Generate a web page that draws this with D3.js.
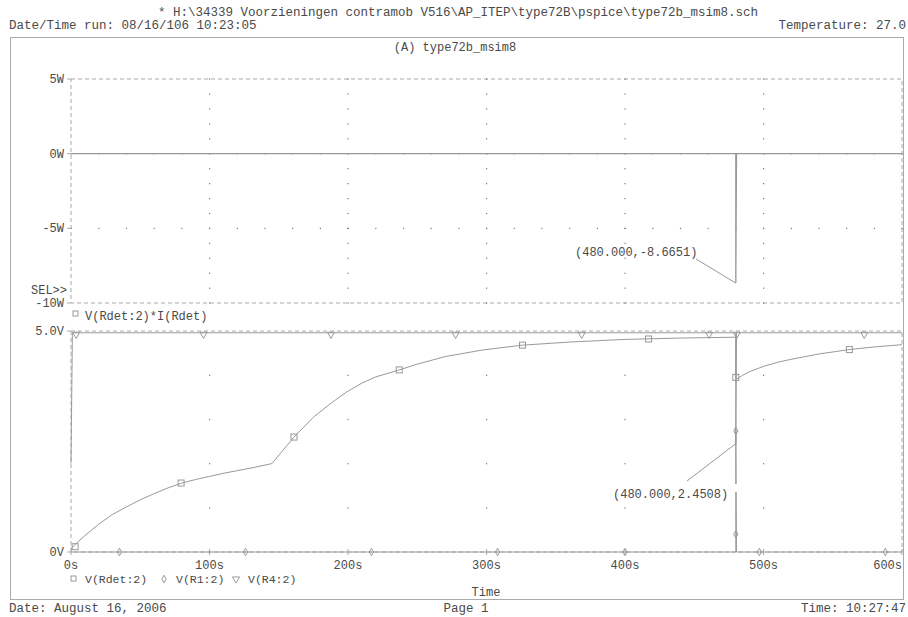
<!DOCTYPE html>
<html>
<head>
<meta charset="utf-8">
<script src="https://cdn.jsdelivr.net/npm/d3@7"></script>
<style>
	body { margin: 0; background: #fff; }
	svg text { font-family: "Liberation Mono", "DejaVu Sans Mono", monospace; fill: #4a4a4a; }
</style>
</head>
<body>
<svg id="chart" width="908" height="617"></svg>
<script>
// traces (time in s)
var powerTrace = [[0, 0], [480, 0], [480, -8.6651], [480.5, 0], [600, 0]];

var rdetTrace = [[0, 0.07], [5, 0.23], [10, 0.37], [15, 0.5], [20, 0.63], [30, 0.85], [40, 1.02], [50, 1.18], [60, 1.32],
	[70, 1.45], [80, 1.56], [90, 1.64], [100, 1.71], [110, 1.78], [120, 1.84], [130, 1.9], [145, 2.0],
	[161, 2.6], [175, 3.05], [187, 3.35], [199, 3.62], [210, 3.82], [220, 3.96], [237, 4.12],
	[250, 4.25], [270, 4.42], [297, 4.57], [326, 4.68], [360, 4.75], [400, 4.81], [440, 4.84],
	[480, 4.86], [480, 3.9], [485, 4.0], [490, 4.08], [500, 4.2], [510, 4.29], [520, 4.36], [540, 4.48],
	[562, 4.58], [580, 4.64], [600, 4.69]];
var r1Trace = [[0, 0], [480, 0], [480, 2.74], [480.5, 0], [600, 0]];
var r4Trace = [[0, 2.0], [1, 4.96], [480, 4.96], [480, 2.45], [480.5, 4.96], [600, 4.96]];

var rdetMarks = [[3, 0.12], [79.5, 1.56], [161, 2.6], [237, 4.12], [326, 4.68], [417, 4.82], [480, 3.95], [562, 4.58]];
var r1Marks = [[35, 0], [126, 0], [217, 0], [308, 0], [400, 0], [480, 0.4], [480, 2.74], [497, 0], [588, 0]];
var r4Marks = [[3, 4.96], [95, 4.96], [187, 4.96], [277, 4.96], [368, 4.96], [460, 4.96], [480, 4.96], [572, 4.96]];

var timeTicks = [0, 100, 200, 300, 400, 500, 600];
var powerTicks = [5, 0, -5, -10];
var powerTickLabels = ['5W', '0W', '-5W', '-10W'];
var voltTicks = [5, 0];
var voltTickLabels = ['5.0V', '0V'];

var svg = d3.select('#chart');
var line = '#999', frame = '#aaa';

var x = d3.scaleLinear().domain([0, 600]).range([71, 902]);
var yP = d3.scaleLinear().domain([-10, 5]).range([303, 79]);
var yV = d3.scaleLinear().domain([0, 5]).range([552, 331]);

// page header / footer
svg.append('text').attr('x', 458).attr('y', 16).attr('text-anchor', 'middle').style('font-size', '12.5px')
	.text('* H:\\34339 Voorzieningen contramob V516\\AP_ITEP\\type72B\\pspice\\type72b_msim8.sch');
svg.append('text').attr('x', 9).attr('y', 29).style('font-size', '12.5px').text('Date/Time run: 08/16/106 10:23:05');
svg.append('text').attr('x', 906).attr('y', 29).attr('text-anchor', 'end').style('font-size', '12.5px').text('Temperature: 27.0');
svg.append('rect').attr('x', 10.5).attr('y', 37.5).attr('width', 893).attr('height', 562)
	.attr('fill', 'none').attr('stroke', frame);
svg.append('text').attr('x', 455).attr('y', 51).attr('text-anchor', 'middle').style('font-size', '12px').text('(A) type72b_msim8');
svg.append('text').attr('x', 9).attr('y', 612).style('font-size', '12.5px').text('Date: August 16, 2006');
svg.append('text').attr('x', 466).attr('y', 612).attr('text-anchor', 'middle').style('font-size', '12.5px').text('Page 1');
svg.append('text').attr('x', 906).attr('y', 612).attr('text-anchor', 'end').style('font-size', '12.5px').text('Time: 10:27:47');

function dashedBox(y) {
	var r = y.range();
	svg.append('rect').attr('x', x(0)).attr('y', r[1]).attr('width', x(600) - x(0)).attr('height', r[0] - r[1])
		.attr('fill', 'none').attr('stroke', frame).attr('stroke-dasharray', '4,3');
}

function dots(pts) {
	svg.append('g').selectAll('rect').data(pts).join('rect')
		.attr('x', function(d) { return d[0] - 0.5; }).attr('y', function(d) { return d[1] - 0.5; })
		.attr('width', 1.2).attr('height', 1.2).attr('fill', '#777');
}

// ---- top plot: V(Rdet:2)*I(Rdet)
dashedBox(yP);
var gridP = [];
[100, 200, 300, 400, 500].forEach(function(t) {
	d3.range(-10, 6).forEach(function(w) { gridP.push([x(t), yP(w)]); });
});
[0, -5].forEach(function(w) {
	d3.range(0, 601, 20).forEach(function(t) { gridP.push([x(t), yP(w)]); });
});
dots(gridP);

svg.append('g').selectAll('line').data(powerTicks).join('line')
	.attr('x1', x(0) - 4).attr('x2', x(0)).attr('y1', function(d) { return yP(d); }).attr('y2', function(d) { return yP(d); })
	.attr('stroke', frame);
svg.append('g').selectAll('text').data(powerTicks).join('text')
	.attr('x', 64).attr('y', function(d) { return yP(d) + 4; }).attr('text-anchor', 'end').style('font-size', '12px')
	.text(function(d, i) { return powerTickLabels[i]; });
svg.append('text').attr('x', 67).attr('y', 294).attr('text-anchor', 'end').style('font-size', '12px').text('SEL>>');

var path = function(y) { return d3.line().x(function(d) { return x(d[0]); }).y(function(d) { return y(d[1]); }); };
svg.append('path').attr('d', path(yP)(powerTrace)).attr('fill', 'none').attr('stroke', line).attr('stroke-width', 1.3);

svg.append('line').attr('x1', x(480)).attr('y1', yP(-8.6651)).attr('x2', 696).attr('y2', 259).attr('stroke', line);
svg.append('text').attr('x', 575).attr('y', 256).style('font-size', '12px').text('(480.000,-8.6651)');

svg.append('rect').attr('x', 73).attr('y', 311).attr('width', 5).attr('height', 5).attr('fill', 'none').attr('stroke', line);
svg.append('text').attr('x', 85).attr('y', 320).style('font-size', '12px').text('V(Rdet:2)*I(Rdet)');

// ---- bottom plot: node voltages
dashedBox(yV);
var gridV = [];
[100, 200, 300, 400, 500].forEach(function(t) {
	[1, 2, 3, 4].forEach(function(v) { gridV.push([x(t), yV(v)]); });
});
dots(gridV);

svg.append('g').selectAll('line').data(timeTicks).join('line')
	.attr('x1', function(d) { return x(d); }).attr('x2', function(d) { return x(d); })
	.attr('y1', yV(0) - 3).attr('y2', yV(0) + 3).attr('stroke', frame);
svg.append('g').selectAll('line').data(voltTicks).join('line')
	.attr('x1', x(0) - 4).attr('x2', x(0)).attr('y1', function(d) { return yV(d); }).attr('y2', function(d) { return yV(d); })
	.attr('stroke', frame);
svg.append('g').selectAll('text').data(voltTicks).join('text')
	.attr('x', 64).attr('y', function(d) { return yV(d) + 4; }).attr('text-anchor', 'end').style('font-size', '12px')
	.text(function(d, i) { return voltTickLabels[i]; });
svg.append('g').selectAll('text').data(timeTicks).join('text')
	.attr('x', function(d) { return x(d); }).attr('y', 568.5)
	.attr('text-anchor', function(d) { return d == 600 ? 'end' : 'middle'; }).style('font-size', '12px')
	.text(function(d) { return d + 's'; });

[r4Trace, r1Trace, rdetTrace].forEach(function(tr) {
	svg.append('path').attr('d', path(yV)(tr)).attr('fill', 'none').attr('stroke', line).attr('stroke-width', 1);
});

svg.append('g').selectAll('rect').data(rdetMarks).join('rect')
	.attr('x', function(d) { return x(d[0]) - 3; }).attr('y', function(d) { return yV(d[1]) - 3; })
	.attr('width', 6).attr('height', 6).attr('fill', 'none').attr('stroke', line);
var diamond = d3.symbol().type(d3.symbolDiamond).size(16);
svg.append('g').selectAll('path').data(r1Marks).join('path')
	.attr('transform', function(d) { return 'translate(' + x(d[0]) + ',' + yV(d[1]) + ')'; })
	.attr('d', diamond).attr('fill', 'none').attr('stroke', line);
var tri = d3.symbol().type(d3.symbolTriangle).size(22);
svg.append('g').selectAll('path').data(r4Marks).join('path')
	.attr('transform', function(d) { return 'translate(' + (x(d[0]) + 1) + ',' + (yV(d[1]) + 1.5) + ') rotate(180)'; })
	.attr('d', tri).attr('fill', 'none').attr('stroke', line);

// cursor label, its box hides part of the trace
svg.append('rect').attr('x', 610).attr('y', 484).attr('width', 130).attr('height', 8).attr('fill', '#fff');
svg.append('line').attr('x1', x(480)).attr('y1', yV(2.4508)).attr('x2', 687).attr('y2', 481).attr('stroke', line);
svg.append('text').attr('x', 613).attr('y', 498).style('font-size', '12px').text('(480.000,2.4508)');

// legend + axis title
var leg = [['rect', 73, 'V(Rdet:2)'], ['diamond', 164, 'V(R1:2)'], ['tri', 236, 'V(R4:2)']];
leg.forEach(function(l) {
	if (l[0] == 'rect') {
		svg.append('rect').attr('x', l[1] - 2).attr('y', 576).attr('width', 5).attr('height', 5).attr('fill', 'none').attr('stroke', line);
	} else {
		svg.append('path').attr('transform', 'translate(' + l[1] + ',579)' + (l[0] == 'tri' ? ' rotate(180)' : ''))
			.attr('d', l[0] == 'tri' ? tri : diamond).attr('fill', 'none').attr('stroke', line);
	}
	svg.append('text').attr('x', l[1] + 12).attr('y', 583).style('font-size', '11.5px').text(l[2]);
});
svg.append('text').attr('x', 486).attr('y', 596).attr('text-anchor', 'middle').style('font-size', '12px').text('Time');
</script>
</body>
</html>
